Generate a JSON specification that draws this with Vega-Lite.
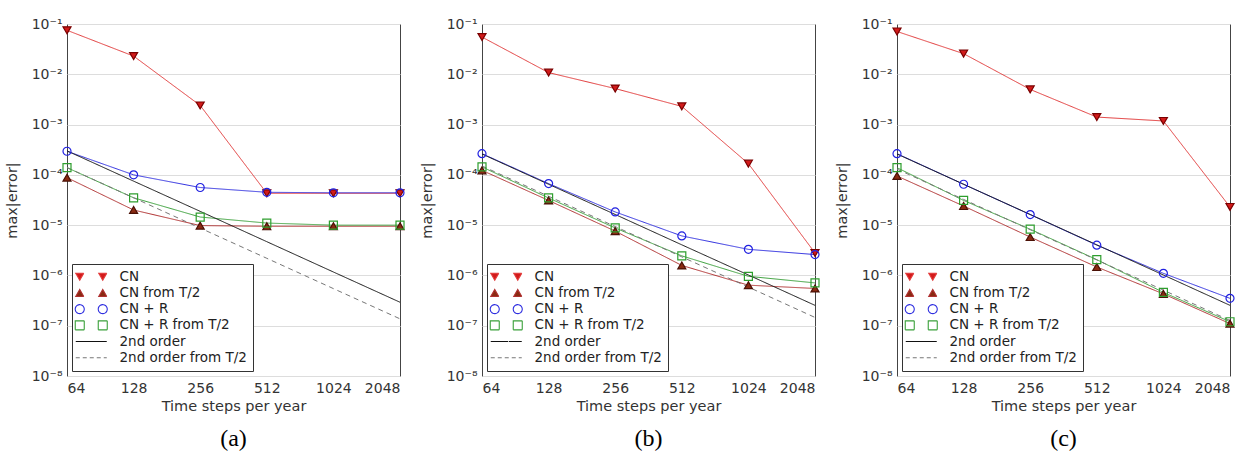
{
  "$schema": "https://vega.github.io/schema/vega-lite/v6.json",
  "background": "white",
  "padding": {"left": 3, "top": 16, "right": 2, "bottom": 2},
  "spacing": 11,
  "datasets": {
    "d": [
      {"panel": "a", "series": "CN", "n": 64, "err": 0.075},
      {"panel": "a", "series": "CN", "n": 128, "err": 0.023},
      {"panel": "a", "series": "CN", "n": 256, "err": 0.0024},
      {"panel": "a", "series": "CN", "n": 512, "err": 4.3e-5},
      {"panel": "a", "series": "CN", "n": 1024, "err": 4.3e-5},
      {"panel": "a", "series": "CN", "n": 2048, "err": 4.3e-5},
      {"panel": "a", "series": "CN from T/2", "n": 64, "err": 8.8e-5},
      {"panel": "a", "series": "CN from T/2", "n": 128, "err": 2.0e-5},
      {"panel": "a", "series": "CN from T/2", "n": 256, "err": 9.8e-6},
      {"panel": "a", "series": "CN from T/2", "n": 512, "err": 9.5e-6},
      {"panel": "a", "series": "CN from T/2", "n": 1024, "err": 9.5e-6},
      {"panel": "a", "series": "CN from T/2", "n": 2048, "err": 9.5e-6},
      {"panel": "a", "series": "CN + R", "n": 64, "err": 2.95e-4},
      {"panel": "a", "series": "CN + R", "n": 128, "err": 1.0e-4},
      {"panel": "a", "series": "CN + R", "n": 256, "err": 5.6e-5},
      {"panel": "a", "series": "CN + R", "n": 512, "err": 4.5e-5},
      {"panel": "a", "series": "CN + R", "n": 1024, "err": 4.4e-5},
      {"panel": "a", "series": "CN + R", "n": 2048, "err": 4.4e-5},
      {"panel": "a", "series": "CN + R from T/2", "n": 64, "err": 1.39e-4},
      {"panel": "a", "series": "CN + R from T/2", "n": 128, "err": 3.5e-5},
      {"panel": "a", "series": "CN + R from T/2", "n": 256, "err": 1.45e-5},
      {"panel": "a", "series": "CN + R from T/2", "n": 512, "err": 1.1e-5},
      {"panel": "a", "series": "CN + R from T/2", "n": 1024, "err": 1.0e-5},
      {"panel": "a", "series": "CN + R from T/2", "n": 2048, "err": 1.0e-5},
      {"panel": "a", "series": "2nd order", "n": 64, "err": 3.0e-4},
      {"panel": "a", "series": "2nd order", "n": 128, "err": 7.5e-5},
      {"panel": "a", "series": "2nd order", "n": 256, "err": 1.88e-5},
      {"panel": "a", "series": "2nd order", "n": 512, "err": 4.69e-6},
      {"panel": "a", "series": "2nd order", "n": 1024, "err": 1.17e-6},
      {"panel": "a", "series": "2nd order", "n": 2048, "err": 2.93e-7},
      {"panel": "a", "series": "2nd order from T/2", "n": 64, "err": 1.4e-4},
      {"panel": "a", "series": "2nd order from T/2", "n": 128, "err": 3.5e-5},
      {"panel": "a", "series": "2nd order from T/2", "n": 256, "err": 8.75e-6},
      {"panel": "a", "series": "2nd order from T/2", "n": 512, "err": 2.19e-6},
      {"panel": "a", "series": "2nd order from T/2", "n": 1024, "err": 5.47e-7},
      {"panel": "a", "series": "2nd order from T/2", "n": 2048, "err": 1.37e-7},

      {"panel": "b", "series": "CN", "n": 64, "err": 0.055},
      {"panel": "b", "series": "CN", "n": 128, "err": 0.0108},
      {"panel": "b", "series": "CN", "n": 256, "err": 0.0052},
      {"panel": "b", "series": "CN", "n": 512, "err": 0.0023},
      {"panel": "b", "series": "CN", "n": 1024, "err": 1.67e-4},
      {"panel": "b", "series": "CN", "n": 2048, "err": 2.8e-6},
      {"panel": "b", "series": "CN from T/2", "n": 64, "err": 1.23e-4},
      {"panel": "b", "series": "CN from T/2", "n": 128, "err": 3.1e-5},
      {"panel": "b", "series": "CN from T/2", "n": 256, "err": 7.6e-6},
      {"panel": "b", "series": "CN from T/2", "n": 512, "err": 1.58e-6},
      {"panel": "b", "series": "CN from T/2", "n": 1024, "err": 6.4e-7},
      {"panel": "b", "series": "CN from T/2", "n": 2048, "err": 5.5e-7},
      {"panel": "b", "series": "CN + R", "n": 64, "err": 2.64e-4},
      {"panel": "b", "series": "CN + R", "n": 128, "err": 6.7e-5},
      {"panel": "b", "series": "CN + R", "n": 256, "err": 1.83e-5},
      {"panel": "b", "series": "CN + R", "n": 512, "err": 6.1e-6},
      {"panel": "b", "series": "CN + R", "n": 1024, "err": 3.3e-6},
      {"panel": "b", "series": "CN + R", "n": 2048, "err": 2.6e-6},
      {"panel": "b", "series": "CN + R from T/2", "n": 64, "err": 1.44e-4},
      {"panel": "b", "series": "CN + R from T/2", "n": 128, "err": 3.47e-5},
      {"panel": "b", "series": "CN + R from T/2", "n": 256, "err": 8.8e-6},
      {"panel": "b", "series": "CN + R from T/2", "n": 512, "err": 2.45e-6},
      {"panel": "b", "series": "CN + R from T/2", "n": 1024, "err": 9.6e-7},
      {"panel": "b", "series": "CN + R from T/2", "n": 2048, "err": 7.1e-7},
      {"panel": "b", "series": "2nd order", "n": 64, "err": 2.6e-4},
      {"panel": "b", "series": "2nd order", "n": 128, "err": 6.5e-5},
      {"panel": "b", "series": "2nd order", "n": 256, "err": 1.63e-5},
      {"panel": "b", "series": "2nd order", "n": 512, "err": 4.06e-6},
      {"panel": "b", "series": "2nd order", "n": 1024, "err": 1.02e-6},
      {"panel": "b", "series": "2nd order", "n": 2048, "err": 2.54e-7},
      {"panel": "b", "series": "2nd order from T/2", "n": 64, "err": 1.5e-4},
      {"panel": "b", "series": "2nd order from T/2", "n": 128, "err": 3.75e-5},
      {"panel": "b", "series": "2nd order from T/2", "n": 256, "err": 9.38e-6},
      {"panel": "b", "series": "2nd order from T/2", "n": 512, "err": 2.34e-6},
      {"panel": "b", "series": "2nd order from T/2", "n": 1024, "err": 5.86e-7},
      {"panel": "b", "series": "2nd order from T/2", "n": 2048, "err": 1.46e-7},

      {"panel": "c", "series": "CN", "n": 64, "err": 0.071},
      {"panel": "c", "series": "CN", "n": 128, "err": 0.0257},
      {"panel": "c", "series": "CN", "n": 256, "err": 0.005},
      {"panel": "c", "series": "CN", "n": 512, "err": 0.00141},
      {"panel": "c", "series": "CN", "n": 1024, "err": 0.00118},
      {"panel": "c", "series": "CN", "n": 2048, "err": 2.3e-5},
      {"panel": "c", "series": "CN from T/2", "n": 64, "err": 9.5e-5},
      {"panel": "c", "series": "CN from T/2", "n": 128, "err": 2.4e-5},
      {"panel": "c", "series": "CN from T/2", "n": 256, "err": 5.8e-6},
      {"panel": "c", "series": "CN from T/2", "n": 512, "err": 1.47e-6},
      {"panel": "c", "series": "CN from T/2", "n": 1024, "err": 4.3e-7},
      {"panel": "c", "series": "CN from T/2", "n": 2048, "err": 1.1e-7},
      {"panel": "c", "series": "CN + R", "n": 64, "err": 2.64e-4},
      {"panel": "c", "series": "CN + R", "n": 128, "err": 6.5e-5},
      {"panel": "c", "series": "CN + R", "n": 256, "err": 1.62e-5},
      {"panel": "c", "series": "CN + R", "n": 512, "err": 4.0e-6},
      {"panel": "c", "series": "CN + R", "n": 1024, "err": 1.1e-6},
      {"panel": "c", "series": "CN + R", "n": 2048, "err": 3.5e-7},
      {"panel": "c", "series": "CN + R from T/2", "n": 64, "err": 1.39e-4},
      {"panel": "c", "series": "CN + R from T/2", "n": 128, "err": 3.1e-5},
      {"panel": "c", "series": "CN + R from T/2", "n": 256, "err": 8.3e-6},
      {"panel": "c", "series": "CN + R from T/2", "n": 512, "err": 2.06e-6},
      {"panel": "c", "series": "CN + R from T/2", "n": 1024, "err": 4.6e-7},
      {"panel": "c", "series": "CN + R from T/2", "n": 2048, "err": 1.2e-7},
      {"panel": "c", "series": "2nd order", "n": 64, "err": 2.6e-4},
      {"panel": "c", "series": "2nd order", "n": 128, "err": 6.5e-5},
      {"panel": "c", "series": "2nd order", "n": 256, "err": 1.63e-5},
      {"panel": "c", "series": "2nd order", "n": 512, "err": 4.06e-6},
      {"panel": "c", "series": "2nd order", "n": 1024, "err": 1.02e-6},
      {"panel": "c", "series": "2nd order", "n": 2048, "err": 2.54e-7},
      {"panel": "c", "series": "2nd order from T/2", "n": 64, "err": 1.3e-4},
      {"panel": "c", "series": "2nd order from T/2", "n": 128, "err": 3.25e-5},
      {"panel": "c", "series": "2nd order from T/2", "n": 256, "err": 8.1e-6},
      {"panel": "c", "series": "2nd order from T/2", "n": 512, "err": 2.03e-6},
      {"panel": "c", "series": "2nd order from T/2", "n": 1024, "err": 5.1e-7},
      {"panel": "c", "series": "2nd order from T/2", "n": 2048, "err": 1.27e-7}
    ]
  },
  "data": {"name": "d"},
  "hconcat": [
    {
      "width": 333, "height": 352,
      "title": {"text": "(a)", "orient": "bottom", "font": "Liberation Serif", "fontSize": 24, "fontWeight": "normal", "color": "#000", "offset": 14},
      "transform": [{"filter": "datum.panel === 'a'"}],
      "encoding": {
        "x": {"field": "n", "type": "quantitative", "scale": {"type": "log", "base": 2, "domain": [64, 2048], "nice": false}, "axis": {"values": [64, 128, 256, 512, 1024, 2048], "format": "d", "title": "Time steps per year", "grid": false, "ticks": false, "labelPadding": 5, "titlePadding": 4}},
        "y": {"field": "err", "type": "quantitative", "scale": {"type": "log", "domain": [1e-8, 0.1], "nice": false}, "axis": {"values": [1e-8, 1e-7, 1e-6, 1e-5, 1e-4, 1e-3, 1e-2, 1e-1], "labelExpr": "'10⁻' + ['⁰','¹','²','³','⁴','⁵','⁶','⁷','⁸','⁹'][-round(log(datum.value)/LN10)]", "title": "max|error|", "grid": true, "ticks": false, "labelPadding": 5, "titlePadding": 12}}
      },
      "layer": [
        {
          "mark": {"type": "line", "strokeWidth": 1},
          "encoding": {
            "color": {"field": "series", "type": "nominal",
              "scale": {"domain": ["CN", "CN from T/2", "CN + R", "CN + R from T/2", "2nd order", "2nd order from T/2"], "range": ["#e23a3a", "#b03030", "#3030e0", "#3aa03a", "#111111", "#777777"]},
              "legend": {"orient": "bottom-left", "offset": 5, "title": null, "padding": 6, "strokeColor": "#333", "fillColor": "#ffffff", "symbolSize": 16, "labelFontSize": 13.5, "labelColor": "#222", "labelOffset": 28, "rowPadding": 1.2,
                "encode": {"symbols": {"update": {
                  "shape": {"signal": "['M-4.5,-1.75L-0.5,-1.75L-2.5,1.75Z M7,-1.75L11,-1.75L9,1.75Z','M-4.5,1.75L-0.5,1.75L-2.5,-1.75Z M7,1.75L11,1.75L9,-1.75Z','M-4.75,0A2.25,2.25 0 1,0 -0.25,0A2.25,2.25 0 1,0 -4.75,0Z M6.75,0A2.25,2.25 0 1,0 11.25,0A2.25,2.25 0 1,0 6.75,0Z','M-4.75,-2.25L-0.25,-2.25L-0.25,2.25L-4.75,2.25Z M6.75,-2.25L11.25,-2.25L11.25,2.25L6.75,2.25Z','M-4.5,0L11,0','M-4.5,0L11,0'][indexof(['CN','CN from T/2','CN + R','CN + R from T/2','2nd order','2nd order from T/2'], datum.value)]"},
                  "fill": {"signal": "['#d21a1a','#8a2a12','transparent','transparent','transparent','transparent'][indexof(['CN','CN from T/2','CN + R','CN + R from T/2','2nd order','2nd order from T/2'], datum.value)]"},
                  "stroke": {"signal": "['#7a0000','#4a1005','#2020e0','#2e9e2e','#111111','#777777'][indexof(['CN','CN from T/2','CN + R','CN + R from T/2','2nd order','2nd order from T/2'], datum.value)]"},
                  "strokeDash": {"signal": "datum.value === '2nd order from T/2' ? [4, 3] : [1, 0]"},
                  "strokeWidth": {"value": 1.1},
                  "opacity": {"value": 1}
                }}}
              }
            },
            "strokeDash": {"field": "series", "type": "nominal", "scale": {"domain": ["CN", "CN from T/2", "CN + R", "CN + R from T/2", "2nd order", "2nd order from T/2"], "range": [[1, 0], [1, 0], [1, 0], [1, 0], [1, 0], [5, 4]]}, "legend": null}
          }
        },
        {
          "transform": [{"filter": "indexof(datum.series, '2nd') < 0"}],
          "mark": {"type": "point", "strokeWidth": 1.2, "opacity": 1},
          "encoding": {
            "shape": {"field": "series", "type": "nominal", "scale": {"domain": ["CN", "CN from T/2", "CN + R", "CN + R from T/2"], "range": ["triangle-down", "triangle-up", "circle", "square"]}, "legend": null},
            "fill": {"field": "series", "type": "nominal", "scale": {"domain": ["CN", "CN from T/2", "CN + R", "CN + R from T/2"], "range": ["#d21a1a", "#8a2a12", "transparent", "transparent"]}, "legend": null},
            "stroke": {"field": "series", "type": "nominal", "scale": {"domain": ["CN", "CN from T/2", "CN + R", "CN + R from T/2"], "range": ["#7a0000", "#4a1005", "#2020e0", "#2e9e2e"]}, "legend": null},
            "size": {"field": "series", "type": "nominal", "scale": {"domain": ["CN", "CN from T/2", "CN + R", "CN + R from T/2"], "range": [64, 64, 100, 90]}, "legend": null}
          }
        }
      ]
    },
    {
      "width": 333, "height": 352,
      "title": {"text": "(b)", "orient": "bottom", "font": "Liberation Serif", "fontSize": 24, "fontWeight": "normal", "color": "#000", "offset": 14},
      "transform": [{"filter": "datum.panel === 'b'"}],
      "encoding": {
        "x": {"field": "n", "type": "quantitative", "scale": {"type": "log", "base": 2, "domain": [64, 2048], "nice": false}, "axis": {"values": [64, 128, 256, 512, 1024, 2048], "format": "d", "title": "Time steps per year", "grid": false, "ticks": false, "labelPadding": 5, "titlePadding": 4}},
        "y": {"field": "err", "type": "quantitative", "scale": {"type": "log", "domain": [1e-8, 0.1], "nice": false}, "axis": {"values": [1e-8, 1e-7, 1e-6, 1e-5, 1e-4, 1e-3, 1e-2, 1e-1], "labelExpr": "'10⁻' + ['⁰','¹','²','³','⁴','⁵','⁶','⁷','⁸','⁹'][-round(log(datum.value)/LN10)]", "title": "max|error|", "grid": true, "ticks": false, "labelPadding": 5, "titlePadding": 12}}
      },
      "layer": [
        {
          "mark": {"type": "line", "strokeWidth": 1},
          "encoding": {
            "color": {"field": "series", "type": "nominal",
              "scale": {"domain": ["CN", "CN from T/2", "CN + R", "CN + R from T/2", "2nd order", "2nd order from T/2"], "range": ["#e23a3a", "#b03030", "#3030e0", "#3aa03a", "#111111", "#777777"]},
              "legend": {"orient": "bottom-left", "offset": 5, "title": null, "padding": 6, "strokeColor": "#333", "fillColor": "#ffffff", "symbolSize": 16, "labelFontSize": 13.5, "labelColor": "#222", "labelOffset": 28, "rowPadding": 1.2,
                "encode": {"symbols": {"update": {
                  "shape": {"signal": "['M-4.5,-1.75L-0.5,-1.75L-2.5,1.75Z M7,-1.75L11,-1.75L9,1.75Z','M-4.5,1.75L-0.5,1.75L-2.5,-1.75Z M7,1.75L11,1.75L9,-1.75Z','M-4.75,0A2.25,2.25 0 1,0 -0.25,0A2.25,2.25 0 1,0 -4.75,0Z M6.75,0A2.25,2.25 0 1,0 11.25,0A2.25,2.25 0 1,0 6.75,0Z','M-4.75,-2.25L-0.25,-2.25L-0.25,2.25L-4.75,2.25Z M6.75,-2.25L11.25,-2.25L11.25,2.25L6.75,2.25Z','M-4.5,0L11,0','M-4.5,0L11,0'][indexof(['CN','CN from T/2','CN + R','CN + R from T/2','2nd order','2nd order from T/2'], datum.value)]"},
                  "fill": {"signal": "['#d21a1a','#8a2a12','transparent','transparent','transparent','transparent'][indexof(['CN','CN from T/2','CN + R','CN + R from T/2','2nd order','2nd order from T/2'], datum.value)]"},
                  "stroke": {"signal": "['#7a0000','#4a1005','#2020e0','#2e9e2e','#111111','#777777'][indexof(['CN','CN from T/2','CN + R','CN + R from T/2','2nd order','2nd order from T/2'], datum.value)]"},
                  "strokeDash": {"signal": "datum.value === '2nd order from T/2' ? [4, 3] : [1, 0]"},
                  "strokeWidth": {"value": 1.1},
                  "opacity": {"value": 1}
                }}}
              }
            },
            "strokeDash": {"field": "series", "type": "nominal", "scale": {"domain": ["CN", "CN from T/2", "CN + R", "CN + R from T/2", "2nd order", "2nd order from T/2"], "range": [[1, 0], [1, 0], [1, 0], [1, 0], [1, 0], [5, 4]]}, "legend": null}
          }
        },
        {
          "transform": [{"filter": "indexof(datum.series, '2nd') < 0"}],
          "mark": {"type": "point", "strokeWidth": 1.2, "opacity": 1},
          "encoding": {
            "shape": {"field": "series", "type": "nominal", "scale": {"domain": ["CN", "CN from T/2", "CN + R", "CN + R from T/2"], "range": ["triangle-down", "triangle-up", "circle", "square"]}, "legend": null},
            "fill": {"field": "series", "type": "nominal", "scale": {"domain": ["CN", "CN from T/2", "CN + R", "CN + R from T/2"], "range": ["#d21a1a", "#8a2a12", "transparent", "transparent"]}, "legend": null},
            "stroke": {"field": "series", "type": "nominal", "scale": {"domain": ["CN", "CN from T/2", "CN + R", "CN + R from T/2"], "range": ["#7a0000", "#4a1005", "#2020e0", "#2e9e2e"]}, "legend": null},
            "size": {"field": "series", "type": "nominal", "scale": {"domain": ["CN", "CN from T/2", "CN + R", "CN + R from T/2"], "range": [64, 64, 100, 90]}, "legend": null}
          }
        }
      ]
    },
    {
      "width": 333, "height": 352,
      "title": {"text": "(c)", "orient": "bottom", "font": "Liberation Serif", "fontSize": 24, "fontWeight": "normal", "color": "#000", "offset": 14},
      "transform": [{"filter": "datum.panel === 'c'"}],
      "encoding": {
        "x": {"field": "n", "type": "quantitative", "scale": {"type": "log", "base": 2, "domain": [64, 2048], "nice": false}, "axis": {"values": [64, 128, 256, 512, 1024, 2048], "format": "d", "title": "Time steps per year", "grid": false, "ticks": false, "labelPadding": 5, "titlePadding": 4}},
        "y": {"field": "err", "type": "quantitative", "scale": {"type": "log", "domain": [1e-8, 0.1], "nice": false}, "axis": {"values": [1e-8, 1e-7, 1e-6, 1e-5, 1e-4, 1e-3, 1e-2, 1e-1], "labelExpr": "'10⁻' + ['⁰','¹','²','³','⁴','⁵','⁶','⁷','⁸','⁹'][-round(log(datum.value)/LN10)]", "title": "max|error|", "grid": true, "ticks": false, "labelPadding": 5, "titlePadding": 12}}
      },
      "layer": [
        {
          "mark": {"type": "line", "strokeWidth": 1},
          "encoding": {
            "color": {"field": "series", "type": "nominal",
              "scale": {"domain": ["CN", "CN from T/2", "CN + R", "CN + R from T/2", "2nd order", "2nd order from T/2"], "range": ["#e23a3a", "#b03030", "#3030e0", "#3aa03a", "#111111", "#777777"]},
              "legend": {"orient": "bottom-left", "offset": 5, "title": null, "padding": 6, "strokeColor": "#333", "fillColor": "#ffffff", "symbolSize": 16, "labelFontSize": 13.5, "labelColor": "#222", "labelOffset": 28, "rowPadding": 1.2,
                "encode": {"symbols": {"update": {
                  "shape": {"signal": "['M-4.5,-1.75L-0.5,-1.75L-2.5,1.75Z M7,-1.75L11,-1.75L9,1.75Z','M-4.5,1.75L-0.5,1.75L-2.5,-1.75Z M7,1.75L11,1.75L9,-1.75Z','M-4.75,0A2.25,2.25 0 1,0 -0.25,0A2.25,2.25 0 1,0 -4.75,0Z M6.75,0A2.25,2.25 0 1,0 11.25,0A2.25,2.25 0 1,0 6.75,0Z','M-4.75,-2.25L-0.25,-2.25L-0.25,2.25L-4.75,2.25Z M6.75,-2.25L11.25,-2.25L11.25,2.25L6.75,2.25Z','M-4.5,0L11,0','M-4.5,0L11,0'][indexof(['CN','CN from T/2','CN + R','CN + R from T/2','2nd order','2nd order from T/2'], datum.value)]"},
                  "fill": {"signal": "['#d21a1a','#8a2a12','transparent','transparent','transparent','transparent'][indexof(['CN','CN from T/2','CN + R','CN + R from T/2','2nd order','2nd order from T/2'], datum.value)]"},
                  "stroke": {"signal": "['#7a0000','#4a1005','#2020e0','#2e9e2e','#111111','#777777'][indexof(['CN','CN from T/2','CN + R','CN + R from T/2','2nd order','2nd order from T/2'], datum.value)]"},
                  "strokeDash": {"signal": "datum.value === '2nd order from T/2' ? [4, 3] : [1, 0]"},
                  "strokeWidth": {"value": 1.1},
                  "opacity": {"value": 1}
                }}}
              }
            },
            "strokeDash": {"field": "series", "type": "nominal", "scale": {"domain": ["CN", "CN from T/2", "CN + R", "CN + R from T/2", "2nd order", "2nd order from T/2"], "range": [[1, 0], [1, 0], [1, 0], [1, 0], [1, 0], [5, 4]]}, "legend": null}
          }
        },
        {
          "transform": [{"filter": "indexof(datum.series, '2nd') < 0"}],
          "mark": {"type": "point", "strokeWidth": 1.2, "opacity": 1},
          "encoding": {
            "shape": {"field": "series", "type": "nominal", "scale": {"domain": ["CN", "CN from T/2", "CN + R", "CN + R from T/2"], "range": ["triangle-down", "triangle-up", "circle", "square"]}, "legend": null},
            "fill": {"field": "series", "type": "nominal", "scale": {"domain": ["CN", "CN from T/2", "CN + R", "CN + R from T/2"], "range": ["#d21a1a", "#8a2a12", "transparent", "transparent"]}, "legend": null},
            "stroke": {"field": "series", "type": "nominal", "scale": {"domain": ["CN", "CN from T/2", "CN + R", "CN + R from T/2"], "range": ["#7a0000", "#4a1005", "#2020e0", "#2e9e2e"]}, "legend": null},
            "size": {"field": "series", "type": "nominal", "scale": {"domain": ["CN", "CN from T/2", "CN + R", "CN + R from T/2"], "range": [64, 64, 100, 90]}, "legend": null}
          }
        }
      ]
    }
  ],
  "resolve": {"scale": {"color": "independent", "x": "independent", "y": "independent"}, "legend": {"color": "independent"}},
  "config": {
    "font": "DejaVu Sans",
    "view": {"stroke": "#444", "strokeWidth": 1},
    "axis": {"labelFont": "DejaVu Sans", "titleFont": "DejaVu Sans", "labelFontSize": 14, "titleFontSize": 14.5, "titleFontWeight": "normal", "labelColor": "#333", "titleColor": "#333", "domain": false, "gridColor": "#dddddd", "gridWidth": 1},
    "legend": {"labelFont": "DejaVu Sans"}
  }
}
